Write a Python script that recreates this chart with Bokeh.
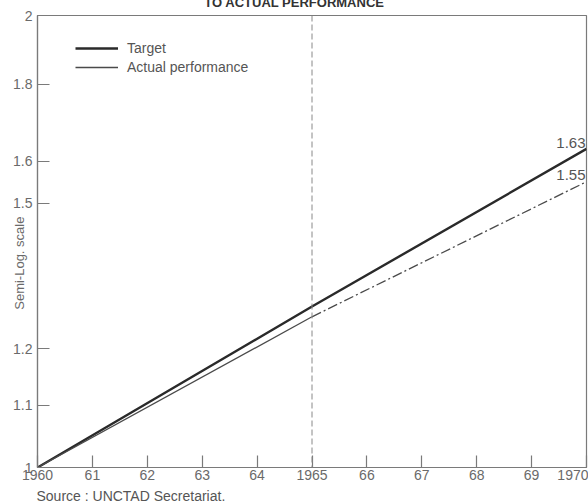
from bokeh.plotting import figure
from bokeh.models import (FixedTicker, Span, Label, Legend, LegendItem)
from bokeh.embed import file_html
from bokeh.resources import INLINE

# ---- data ----
years = [1960, 1965, 1970]
target = [1.00, 1.28, 1.63]
actual = [1.00, 1.26, 1.55]

x_ticks = [1960, 1961, 1962, 1963, 1964, 1965, 1966, 1967, 1968, 1969, 1970]
x_labels = ["1960", "61", "62", "63", "64", "1965", "66", "67", "68", "69", "1970"]
y_ticks = [1.0, 1.1, 1.2, 1.5, 1.6, 1.8, 2.0]
y_labels = ["1", "1.1", "1.2", "1.5", "1.6", "1.8", "2"]

FONT = "Liberation Sans"
AXIS_COL = "#7a7a7a"
TEXT_COL = "#6a6a6a"
NB = "\u00a0"

W, H = 588, 504

p = figure(width=W, height=H, output_backend="svg", toolbar_location=None,
           x_range=(1960, 1970), y_range=(1.0, 2.0), y_axis_type="log",
           min_border_left=37, min_border_right=2, min_border_top=15,
           min_border_bottom=37, background_fill_color="white",
           border_fill_color="white")

p.grid.visible = False
p.outline_line_color = AXIS_COL
p.outline_line_width = 1.2

# axes
p.xaxis.ticker = FixedTicker(ticks=x_ticks)
p.xaxis.major_label_overrides = {t: l for t, l in zip(x_ticks, x_labels)}
p.yaxis.ticker = FixedTicker(ticks=y_ticks)
p.yaxis.major_label_overrides = {t: l for t, l in zip(y_ticks, y_labels)}
for ax in (p.xaxis, p.yaxis):
    ax.axis_line_color = AXIS_COL
    ax.axis_line_width = 1.2
    ax.major_tick_line_color = AXIS_COL
    ax.major_tick_line_width = 1.2
    ax.major_tick_in = 12
    ax.major_tick_out = 0
    ax.minor_tick_line_color = None
    ax.major_label_text_color = TEXT_COL
    ax.major_label_text_font = FONT
    ax.major_label_text_font_size = "14px"
p.xaxis.major_label_standoff = 2
p.yaxis.major_label_standoff = 5

p.yaxis.axis_label = "Semi-Log. scale" + NB * 12
p.yaxis.axis_label_standoff = -17
p.yaxis.axis_label_text_font = FONT
p.yaxis.axis_label_text_font_size = "13px"
p.yaxis.axis_label_text_font_style = "normal"
p.yaxis.axis_label_text_color = TEXT_COL

# 1965 dashed divider
p.add_layout(Span(location=1965, dimension="height", line_color="#888888",
                  line_width=1, line_dash="6 3"))

# lines
r_target = p.line(years, target, line_color="#2a2a2a", line_width=2.4)
r_act1 = p.line(years[:2], actual[:2], line_color="#4a4a4a", line_width=1.3)
p.line(years[1:], actual[1:], line_color="#4a4a4a", line_width=1.3,
       line_dash="10 3 2 3")

legend = Legend(items=[LegendItem(label="Target", renderers=[r_target]),
                       LegendItem(label="Actual performance", renderers=[r_act1])],
                location=(38, 392), glyph_width=43, glyph_height=14,
                label_height=14, spacing=3, padding=0, margin=0,
                label_standoff=9, border_line_color=None,
                background_fill_alpha=0, label_text_font=FONT,
                label_text_font_size="14px", label_text_color="#555555")
p.add_layout(legend, "center")

# end values
for v, off in [(target[-1], 1), (actual[-1], 2)]:
    p.add_layout(Label(x=years[-1], y=v, text=f"{v:.2f}", text_align="right",
                       text_baseline="bottom", x_offset=-1, y_offset=off,
                       text_font=FONT, text_font_size="15px",
                       text_color="#555555"))

# texts outside the frame (canvas units, hosted in side panels so not clipped)
p.add_layout(Label(x=36, y=495, x_units="canvas", y_units="canvas",
                   text="Source : UNCTAD Secretariat.", text_baseline="middle",
                   text_font=FONT, text_font_size="14px", text_color="#555555"), "below")
p.add_layout(Label(x=294, y=9, x_units="canvas", y_units="canvas",
                   text="TO ACTUAL PERFORMANCE", text_align="center",
                   text_baseline="bottom", text_font=FONT,
                   text_font_size="13px", text_font_style="bold",
                   text_color="#333333"), "above")

open("out.html", "w").write(file_html(p, INLINE))
